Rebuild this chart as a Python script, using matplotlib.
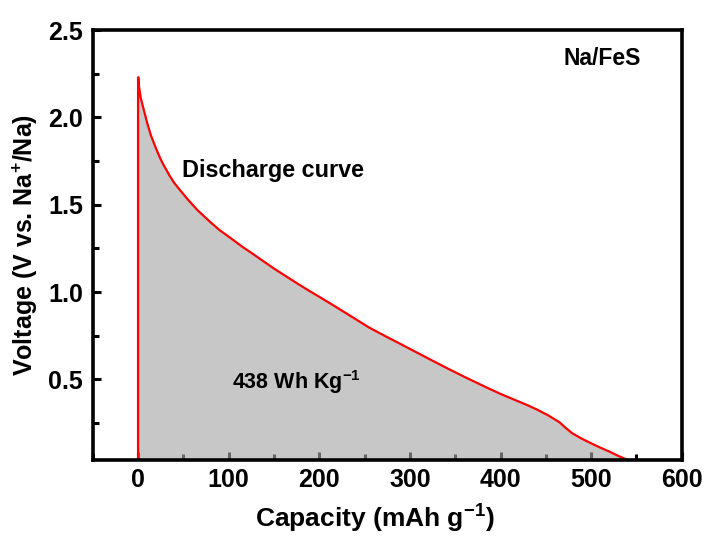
import matplotlib
matplotlib.use('Agg')
import matplotlib.pyplot as plt
from matplotlib.ticker import MultipleLocator

plt.rcParams['font.family'] = ['Liberation Sans', 'DejaVu Sans']
plt.rcParams['font.weight'] = 'bold'
plt.rcParams['mathtext.fontset'] = 'custom'
plt.rcParams['mathtext.rm'] = 'Liberation Sans:bold'
plt.rcParams['mathtext.bf'] = 'Liberation Sans:bold'
plt.rcParams['mathtext.default'] = 'bf'

# discharge curve (mAh/g, V)
capacity = [0, 0, 0.5, 1, 3, 5, 7, 10, 14, 20, 25, 29, 35, 40, 47, 55, 66, 80,
            90, 102, 115, 125, 138, 150, 165, 175, 188, 201, 220, 238, 255,
            275, 290, 311, 325, 340, 355, 366, 385, 400, 417, 430, 440, 452,
            465, 472, 479, 490, 500, 509, 520, 530, 542, 546]
voltage = [0.0, 2.23, 2.23, 2.18, 2.11, 2.07, 2.03, 1.97, 1.90, 1.82, 1.76,
           1.72, 1.665, 1.625, 1.58, 1.53, 1.467, 1.40, 1.355, 1.31, 1.26,
           1.225, 1.178, 1.135, 1.085, 1.052, 1.01, 0.97, 0.91, 0.852, 0.797,
           0.742, 0.702, 0.645, 0.607, 0.567, 0.528, 0.50, 0.453, 0.417, 0.38,
           0.352, 0.328, 0.296, 0.255, 0.222, 0.192, 0.16, 0.134, 0.112, 0.087,
           0.062, 0.035, 0.0]

fig = plt.figure(figsize=(7.08, 5.39), dpi=100)
ax = fig.add_axes([0.131, 0.147, 0.832, 0.797])

ax.fill_between(capacity, voltage, 0, color='#a6a6a6', alpha=0.62,
                linewidth=0, zorder=3)
ax.plot(capacity, voltage, color='red', linewidth=1.6, zorder=4)

ax.set_xlim(-50, 600)
ax.set_ylim(0.04, 2.5)
ax.xaxis.set_major_locator(MultipleLocator(100))
ax.xaxis.set_minor_locator(MultipleLocator(50))
ax.yaxis.set_minor_locator(MultipleLocator(0.25))
ax.set_yticks([0.5, 1.0, 1.5, 2.0, 2.5])

ax.tick_params(which='both', direction='in', width=2.2, top=False, right=False)
ax.tick_params(which='major', length=6, labelsize=18)
ax.tick_params(which='minor', length=4)
ax.tick_params(axis='x', pad=6)
ax.tick_params(axis='y', pad=7)
for lab in ax.get_xticklabels() + ax.get_yticklabels():
    lab.set_fontweight('bold')

for side in ['left', 'right', 'top', 'bottom']:
    ax.spines[side].set_linewidth(2.6)
    ax.spines[side].set_zorder(5)

ax.set_xlabel('Capacity (mAh g$^{-1}$)', fontsize=19, fontweight='bold')
ax.xaxis.set_label_coords(0.479, -0.1)
ax.set_ylabel('Voltage (V vs. Na$^{+}$/Na)', fontsize=18, fontweight='bold', labelpad=6)

ax.text(49, 1.695, 'Discharge curve', fontsize=16.8, fontweight='bold',
        ha='left', va='center', zorder=6)
ax.text(512, 2.34, 'Na/FeS', fontsize=16.5, fontweight='bold',
        ha='center', va='center', zorder=6)
ax.text(104, 0.484, '438 Wh Kg$^{-1}$', fontsize=15.5, fontweight='bold',
        ha='left', va='center', zorder=6)

fig.savefig('out.png', dpi=100)
